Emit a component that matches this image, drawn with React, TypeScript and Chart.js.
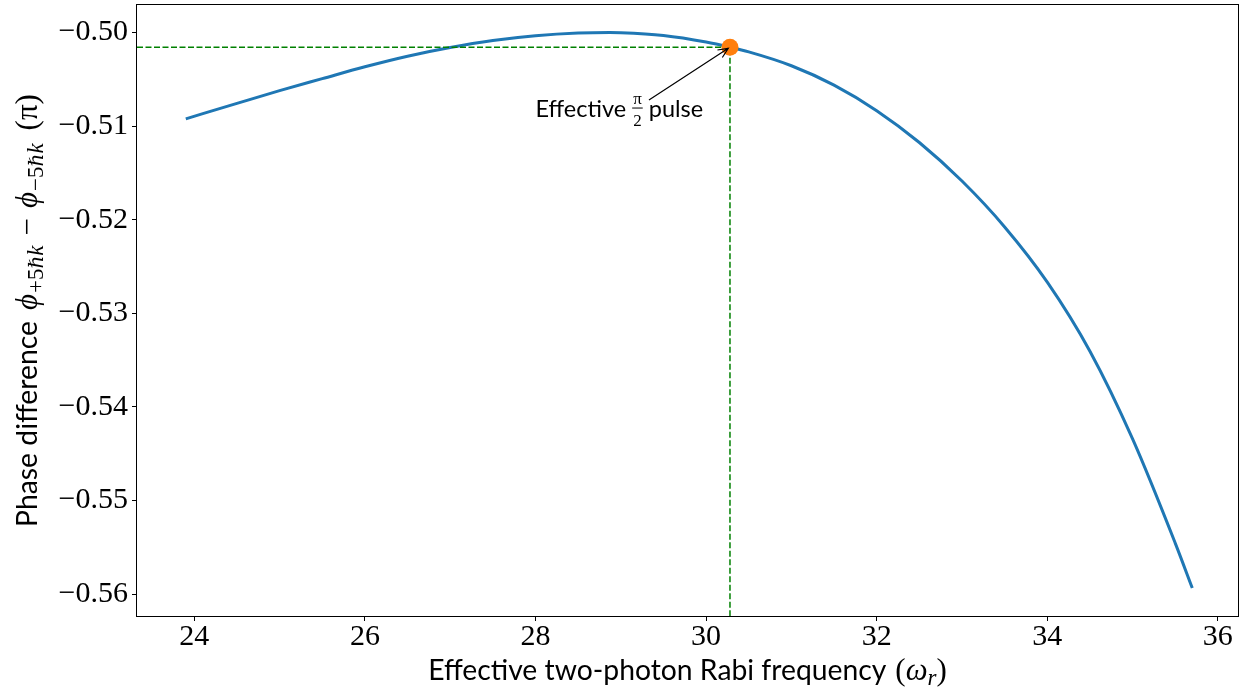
import { useEffect, useRef } from "react";
import { Chart, registerables } from "chart.js";

Chart.register(...registerables);

// ---- data ----
const rabiFreq = [
  23.9, 24.5, 25.0, 25.5, 26.0, 26.5, 27.0, 27.5, 28.0, 28.5, 28.87, 29.0, 29.5, 30.0, 30.28, 30.5, 31.0, 31.5,
  32.0, 32.5, 33.0, 33.5, 34.0, 34.5, 35.0, 35.5, 35.7,
];
const phaseDiff = [
  -0.50922, -0.50757, -0.50621, -0.50493, -0.50366, -0.50253, -0.5016, -0.50086, -0.50035, -0.50006, -0.5,
  -0.50002, -0.50032, -0.50102, -0.50157, -0.50207, -0.50355, -0.50562, -0.50835, -0.51175, -0.51587, -0.52077,
  -0.52667, -0.53405, -0.54342, -0.55455, -0.55935,
];

const pulseX = [30.28];
const pulseY = [-0.50157];

const xTicks = [24, 26, 28, 30, 32, 34, 36];
const yTicks = [-0.56, -0.55, -0.54, -0.53, -0.52, -0.51, -0.5];

const xMin = 23.328;
const xMax = 36.236;
const yMin = -0.56234;
const yMax = -0.49706;

const annText = ["Effective", "pulse"];
const annTextPos = [28.0, -0.50903];
const annArrowStart = [29.33, -0.50721];

const SANS = "Lato, 'Open Sans', 'DejaVu Sans', sans-serif";
const SERIF = "'Liberation Serif', 'DejaVu Serif', serif";
const SERIF2 = "'DejaVu Serif', serif";

type Seg = { t: string; font: string; dy?: number; gap?: number };

function drawRich(ctx: CanvasRenderingContext2D, segs: Seg[], x: number, y: number, align: "center" | "left") {
  let total = 0;
  for (const s of segs) {
    ctx.font = s.font;
    total += ctx.measureText(s.t).width + (s.gap || 0);
  }
  let cx = align === "center" ? x - total / 2 : x;
  for (const s of segs) {
    ctx.font = s.font;
    ctx.fillText(s.t, cx, y + (s.dy || 0));
    cx += ctx.measureText(s.t).width + (s.gap || 0);
  }
  return total;
}

const overlay = {
  id: "overlay",
  afterDraw(chart: any) {
    const { ctx, chartArea: ca, scales } = chart;
    const xs = scales.x;
    const ys = scales.y;
    ctx.save();
    // frame
    ctx.strokeStyle = "#000";
    ctx.lineWidth = 1;
    ctx.setLineDash([]);
    ctx.strokeRect(ca.left - 0.5, ca.top - 0.5, ca.right - ca.left + 1, ca.bottom - ca.top + 1);

    ctx.fillStyle = "#000";
    ctx.textBaseline = "alphabetic";
    ctx.textAlign = "left";

    const txt = 28.3;
    const mth = 31;
    const sub = 23;
    const subH = 20;

    // x axis title
    drawRich(
      ctx,
      [
        { t: "Effective two-photon Rabi frequency", font: `${txt}px ${SANS}`, gap: 9 },
        { t: "(", font: `${mth}px ${SERIF}` },
        { t: "ω", font: `italic ${mth}px ${SERIF}` },
        { t: "r", font: `italic ${sub}px ${SERIF}`, dy: 5 },
        { t: ")", font: `${mth}px ${SERIF}` },
      ],
      (ca.left + ca.right) / 2,
      680,
      "center"
    );

    // y axis title (rotated)
    ctx.save();
    ctx.translate(37, (ca.top + ca.bottom) / 2);
    ctx.rotate(-Math.PI / 2);
    drawRich(
      ctx,
      [
        { t: "Phase difference", font: `${txt}px ${SANS}`, gap: 11 },
        { t: "ϕ", font: `italic ${mth}px ${SERIF}`, gap: 1 },
        { t: "+5", font: `${sub}px ${SERIF}`, dy: 6 },
        { t: "ℏ", font: `italic ${subH}px ${SERIF2}`, dy: 6 },
        { t: "k", font: `italic ${sub}px ${SERIF}`, dy: 6, gap: 10 },
        { t: "−", font: `${mth}px ${SERIF}`, gap: 10 },
        { t: "ϕ", font: `italic ${mth}px ${SERIF}`, gap: 1 },
        { t: "−5", font: `${sub}px ${SERIF}`, dy: 6 },
        { t: "ℏ", font: `italic ${subH}px ${SERIF2}`, dy: 6 },
        { t: "k", font: `italic ${sub}px ${SERIF}`, dy: 6, gap: 13 },
        { t: "(π)", font: `${mth}px ${SERIF}` },
      ],
      0,
      0,
      "center"
    );
    ctx.restore();

    // annotation text
    const tx = xs.getPixelForValue(annTextPos[0]);
    const ty = ys.getPixelForValue(annTextPos[1]);
    const af = 23.5;
    ctx.font = `${af}px ${SANS}`;
    ctx.fillText(annText[0], tx, ty);
    let cx = tx + ctx.measureText(annText[0] + " ").width;
    ctx.font = `17px ${SERIF}`;
    const wPi = ctx.measureText("π").width;
    const w2 = ctx.measureText("2").width;
    const fw = Math.max(wPi, w2) + 2;
    ctx.fillText("π", cx + (fw - wPi) / 2, ty - 13);
    ctx.fillText("2", cx + (fw - w2) / 2, ty + 9);
    ctx.fillRect(cx, ty - 9.5, fw, 1);
    cx += fw;
    ctx.font = `${af}px ${SANS}`;
    ctx.fillText(" " + annText[1], cx, ty);

    // arrow
    const ax0 = xs.getPixelForValue(annArrowStart[0]);
    const ay0 = ys.getPixelForValue(annArrowStart[1]);
    const px = xs.getPixelForValue(pulseX[0]);
    const py = ys.getPixelForValue(pulseY[0]);
    const ang = Math.atan2(py - ay0, px - ax0);
    const ex = px - Math.cos(ang) * 2;
    const ey = py - Math.sin(ang) * 2;
    ctx.strokeStyle = "#000";
    ctx.lineWidth = 1.2;
    ctx.beginPath();
    ctx.moveTo(ax0, ay0);
    ctx.lineTo(ex, ey);
    const hl = 11;
    const hw = 0.42;
    ctx.moveTo(ex - hl * Math.cos(ang - hw), ey - hl * Math.sin(ang - hw));
    ctx.lineTo(ex, ey);
    ctx.lineTo(ex - hl * Math.cos(ang + hw), ey - hl * Math.sin(ang + hw));
    ctx.stroke();
    ctx.restore();
  },
};

export default function App() {
  const ref = useRef<HTMLCanvasElement | null>(null);
  useEffect(() => {
    if (!ref.current) return;
    const curve = rabiFreq.map((x, i) => ({ x, y: phaseDiff[i] }));
    const guide = [
      { x: xMin, y: pulseY[0] },
      { x: pulseX[0], y: pulseY[0] },
      { x: pulseX[0], y: yMin },
    ];
    const point = pulseX.map((x, i) => ({ x, y: pulseY[i] }));
    const tickFont = { family: SERIF, size: 30, lineHeight: 1 };
    const chart = new Chart(ref.current, {
      type: "scatter",
      data: {
        datasets: [
          {
            label: "phase",
            data: curve,
            showLine: true,
            borderColor: "#1f77b4",
            borderWidth: 3,
            pointRadius: 0,
            cubicInterpolationMode: "monotone",
            order: 3,
          } as any,
          {
            label: "guide",
            data: guide,
            showLine: true,
            borderColor: "#008000",
            borderWidth: 1.5,
            borderDash: [6, 2.5],
            pointRadius: 0,
            order: 2,
          } as any,
          {
            label: "pulse",
            data: point,
            showLine: false,
            backgroundColor: "#ff7f0e",
            borderColor: "#ff7f0e",
            pointRadius: 8.5,
            borderWidth: 0,
            order: 1,
          } as any,
        ],
      },
      options: {
        animation: false,
        responsive: true,
        maintainAspectRatio: false,
        layout: { autoPadding: false, padding: { top: 5, right: 6, left: 0, bottom: 0 } },
        plugins: { legend: { display: false }, tooltip: { enabled: false } },
        scales: {
          x: {
            type: "linear",
            min: xMin,
            max: xMax,
            afterBuildTicks: (s: any) => {
              s.ticks = xTicks.map((v) => ({ value: v }));
            },
            afterFit: (s: any) => {
              s.height = 74;
              s.paddingLeft = 0;
              s.paddingRight = 0;
            },
            grid: { drawOnChartArea: false, drawTicks: true, tickLength: 5, tickColor: "#000", tickWidth: 1 },
            border: { display: false },
            ticks: {
              color: "#000",
              font: tickFont,
              padding: 1,
              maxRotation: 0,
              autoSkip: false,
              callback: (v: any) => String(v),
            },
          },
          y: {
            type: "linear",
            min: yMin,
            max: yMax,
            afterBuildTicks: (s: any) => {
              s.ticks = yTicks.map((v) => ({ value: v }));
            },
            afterFit: (s: any) => {
              s.width = 137;
              s.paddingTop = 0;
              s.paddingBottom = 0;
            },
            grid: { drawOnChartArea: false, drawTicks: true, tickLength: 5, tickColor: "#000", tickWidth: 1 },
            border: { display: false },
            ticks: {
              color: "#000",
              font: tickFont,
              padding: 4,
              autoSkip: false,
              callback: (v: any) => "\u2212" + Math.abs(Number(v)).toFixed(2),
            },
          },
        },
      },
      plugins: [overlay],
    });
    return () => chart.destroy();
  }, []);
  return (
    <div style={{ position: "absolute", left: 0, top: 0, width: 1244, height: 690, background: "#fff" }}>
      <canvas ref={ref} />
    </div>
  );
}
